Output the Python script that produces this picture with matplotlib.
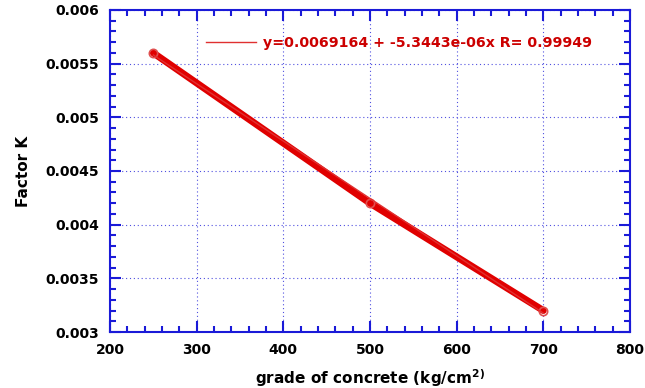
import numpy as np
import matplotlib.pyplot as plt
from matplotlib.ticker import MultipleLocator

plt.rcParams['font.family'] = ['DejaVu Sans']
plt.rcParams['font.weight'] = 'bold'
plt.rcParams['mathtext.default'] = 'bf'

grade = [250, 500, 700]
factor_k = [0.0056, 0.0042, 0.0032]
fit_a = 0.0069164
fit_b = -5.3443e-06
fit_label = "y=0.0069164 + -5.3443e-06x R= 0.99949"

fig = plt.figure(figsize=(6.45, 3.88), dpi=100)
ax = fig.add_axes([110/645, 1 - 332/388, 520/645, 322/388])

ax.plot(grade, factor_k, color='#e00000', lw=5, solid_capstyle='round', zorder=3)
ax.plot(grade, factor_k, 'o', ms=6, mfc='none', mec='#e05050', mew=1.2, zorder=4)
xf = np.array([grade[0], grade[-1]])
line, = ax.plot(xf, fit_a + fit_b * xf, color='#e03030', lw=1, zorder=4, label=fit_label)

ax.set_xlim(200, 800)
ax.set_ylim(0.003, 0.006)
ax.xaxis.set_major_locator(MultipleLocator(100))
ax.xaxis.set_minor_locator(MultipleLocator(20))
ax.yaxis.set_major_locator(MultipleLocator(0.0005))
ax.yaxis.set_minor_locator(MultipleLocator(0.0001))
ax.yaxis.set_major_formatter(plt.FuncFormatter(lambda v, p: ('%g' % round(v, 5))))

blue = '#1a1ad8'
for s in ax.spines.values():
    s.set_color(blue)
    s.set_linewidth(1.5)
ax.tick_params(which='both', direction='in', top=True, right=True, color=blue, width=1.5)
ax.tick_params(which='major', length=8, labelsize=10, pad=8)
ax.tick_params(which='minor', length=4)
ax.grid(True, which='major', color='#5050e0', ls=(0, (1, 2.5)), lw=0.8)

ax.set_xlabel('grade of concrete (kg/cm$^{2)}$', fontsize=11, fontweight='bold', labelpad=7)
ax.set_ylabel('Factor K', fontsize=11, fontweight='bold', labelpad=10)

leg = ax.legend(handles=[line], loc='upper left', bbox_to_anchor=(0.16, 0.96), frameon=False,
                handlelength=3.5, handletextpad=0.5, prop={'weight': 'bold', 'size': 10.2})
for t in leg.get_texts():
    t.set_color('#cc0000')

fig.savefig('out.png', dpi=100)
